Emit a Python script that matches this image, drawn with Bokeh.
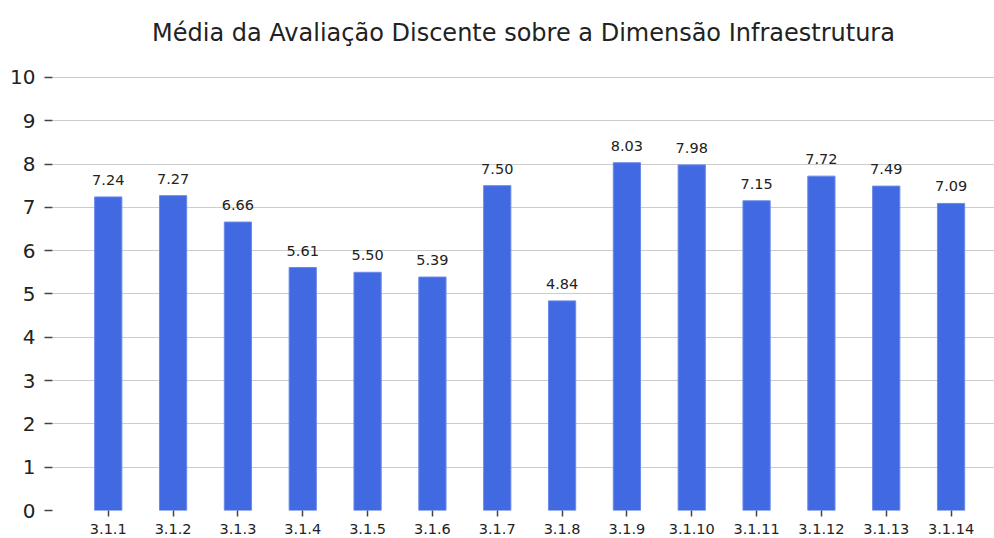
from bokeh.plotting import figure
from bokeh.models import ColumnDataSource, Range1d, FixedTicker, LabelSet
from bokeh.core.properties import value
from bokeh.embed import file_html
from bokeh.resources import INLINE

categories = ["3.1.1", "3.1.2", "3.1.3", "3.1.4", "3.1.5", "3.1.6", "3.1.7",
              "3.1.8", "3.1.9", "3.1.10", "3.1.11", "3.1.12", "3.1.13", "3.1.14"]
values = [7.24, 7.27, 6.66, 5.61, 5.50, 5.39, 7.50, 4.84, 8.03, 7.98, 7.15, 7.72, 7.49, 7.09]
y_ticks = [0, 1, 2, 3, 4, 5, 6, 7, 8, 9, 10]

xs = list(range(len(categories)))
src = ColumnDataSource(dict(x=xs, top=values, label=[f"{v:.2f}" for v in values]))

p = figure(width=994, height=538, output_backend="svg", toolbar_location=None,
           x_range=Range1d(-0.86, 13.67), y_range=Range1d(0, 10.39),
           min_border_left=52, min_border_right=0, min_border_top=60, min_border_bottom=28)

p.title.text = "Média da Avaliação Discente sobre a Dimensão Infraestrutura"
p.title.align = "center"
p.title.offset = 6
p.title.text_font = "DejaVu Sans"
p.title.text_font_size = "24px"
p.title.text_font_style = "normal"
p.title.text_color = "#222222"
p.title.standoff = 28

p.vbar(x="x", top="top", width=0.42, bottom=0, source=src,
       fill_color="#4169E1", line_color="#6a8ae8", line_width=1)

labels = LabelSet(x="x", y="top", text="label", source=src, text_align="center",
                  text_baseline="bottom", y_offset=12, text_font=value("DejaVu Sans"),
                  text_font_size="14.5px", text_color="#222222")
p.add_layout(labels)

p.outline_line_color = None
p.xgrid.grid_line_color = None
p.ygrid.grid_line_color = "#cccccc"
p.ygrid.grid_line_width = 1
p.ygrid.ticker = FixedTicker(ticks=y_ticks)

p.yaxis.ticker = FixedTicker(ticks=y_ticks)
p.yaxis.axis_line_color = None
p.yaxis.major_tick_line_color = "#444444"
p.yaxis.major_tick_line_width = 1.5
p.yaxis.major_tick_out = 8
p.yaxis.major_tick_in = 0
p.yaxis.minor_tick_line_color = None
p.yaxis.major_label_text_font = "DejaVu Sans"
p.yaxis.major_label_text_font_size = "20px"
p.yaxis.major_label_text_color = "#222222"
p.yaxis.major_label_standoff = 9

p.xaxis.ticker = FixedTicker(ticks=xs)
p.xaxis.major_label_overrides = {i: c for i, c in enumerate(categories)}
p.xaxis.axis_line_color = None
p.xaxis.major_tick_line_color = "#444444"
p.xaxis.major_tick_line_width = 1.5
p.xaxis.major_tick_out = 6
p.xaxis.major_tick_in = 0
p.xaxis.minor_tick_line_color = None
p.xaxis.major_label_text_font = "DejaVu Sans"
p.xaxis.major_label_text_font_size = "14.5px"
p.xaxis.major_label_text_color = "#222222"
p.xaxis.major_label_standoff = 7

open("out.html", "w").write(file_html(p, INLINE))
